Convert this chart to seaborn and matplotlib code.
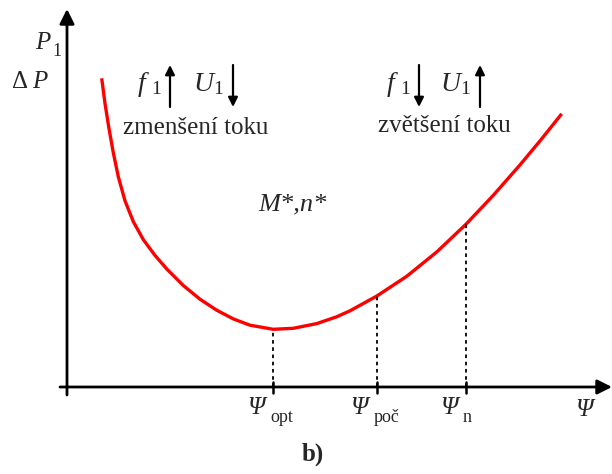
import numpy as np
import pandas as pd
import matplotlib
matplotlib.use("Agg")
import matplotlib.pyplot as plt
import seaborn as sns

# Loss curve P1 / ΔP versus flux Ψ (arbitrary units, origin at the axes crossing)
psi = [34.7, 38, 42, 46.3, 51.3, 58, 66.3, 76.3, 88, 99.7, 116.3, 133, 149.7,
       166.3, 183, 206.3, 226.3, 249.7, 269.7, 283, 309.7, 339.7, 369.7, 399,
       426.3, 453, 473, 494.7]
loss = [308.7, 283.6, 258.4, 234.3, 210.3, 186.2, 165.4, 147.4, 131.6, 118.1,
        101.5, 87.8, 76.8, 68.1, 61.8, 57.7, 58.7, 63.4, 70.2, 76.2, 90.9,
        110.7, 135, 162.8, 191.7, 222.1, 246.1, 273.2]

# Marked operating points on the Ψ axis
mark_psi = [206.3, 309.7, 399]
mark_loss = [57.7, 90.9, 162.8]
mark_sub = ["opt", "poč", "n"]

sns.set_style("white")
plt.rcParams["font.family"] = ["Liberation Serif", "DejaVu Serif"]

fig = plt.figure(figsize=(6.12, 4.74), dpi=100)
ax = fig.add_axes([0, 0, 1, 1])
ax.set_xlim(-67, 545)
ax.set_ylim(-87, 387)
ax.axis("off")

df = pd.DataFrame({"psi": psi, "loss": loss})
sns.lineplot(data=df, x="psi", y="loss", color="#ff0000", lw=2.4, ax=ax,
             sort=False, legend=False)
ax.lines[-1].set_solid_joinstyle("round")
ax.lines[-1].set_solid_capstyle("butt")

# axes with arrow heads
arrow_kw = dict(arrowstyle="-|>", color="black", lw=2.0, mutation_scale=22,
                shrinkA=0, shrinkB=0)
ax.annotate("", xy=(545, 0), xytext=(-7, 0), arrowprops=arrow_kw)
ax.annotate("", xy=(0, 378), xytext=(0, -8), arrowprops=arrow_kw)

# dotted guides and ticks at the marked points
for x, y, s in zip(mark_psi, mark_loss, mark_sub):
    ax.plot([x, x], [0, y], color="black", lw=1.3, ls=(0, (2, 2)))
    ax.plot([x, x], [-6, 5], color="black", lw=1.8)
    ax.text(x - 26, -21, "Ψ", fontsize=18, style="italic", ha="left", va="center")
    ax.text(x - 3, -31, s, fontsize=13, ha="left", va="center")

ax.text(508, -23, "Ψ", fontsize=18, style="italic", ha="left", va="center")

# y-axis labels
ax.text(-32, 344, "P", fontsize=18, style="italic", ha="left", va="center")
ax.text(-15, 336, "1", fontsize=13, ha="left", va="center")
ax.text(-55, 305, "Δ", fontsize=18, ha="left", va="center")
ax.text(-35, 305, "P", fontsize=18, style="italic", ha="left", va="center")

# direction hints
small_arrow = dict(arrowstyle="-|>", color="black", lw=1.6, mutation_scale=14,
                   shrinkA=0, shrinkB=0)

def hint(x0, f_up, u_x, u_up):
    ax.text(x0, 303, "f", fontsize=20, style="italic", ha="left", va="center")
    ax.text(x0 + 13, 298, "1", fontsize=14, ha="left", va="center")
    fa = x0 + 32
    if f_up:
        ax.annotate("", xy=(fa, 322), xytext=(fa, 280), arrowprops=small_arrow)
    else:
        ax.annotate("", xy=(fa, 280), xytext=(fa, 322), arrowprops=small_arrow)
    ax.text(u_x, 303, "U", fontsize=20, style="italic", ha="left", va="center")
    ax.text(u_x + 20, 298, "1", fontsize=14, ha="left", va="center")
    ua = u_x + 40
    if u_up:
        ax.annotate("", xy=(ua, 322), xytext=(ua, 280), arrowprops=small_arrow)
    else:
        ax.annotate("", xy=(ua, 280), xytext=(ua, 322), arrowprops=small_arrow)

hint(71, True, 126, False)
ax.text(129, 259, "zmenšení toku", fontsize=18, ha="center", va="center")
hint(320, False, 373, True)
ax.text(377, 261, "zvětšení toku", fontsize=18, ha="center", va="center")

ax.text(225, 183, "M*,n*", fontsize=19, style="italic", ha="center", va="center")

ax.text(246, -67, "b)", fontsize=18, weight="bold", ha="center", va="center")

fig.savefig("out.png", dpi=100)
